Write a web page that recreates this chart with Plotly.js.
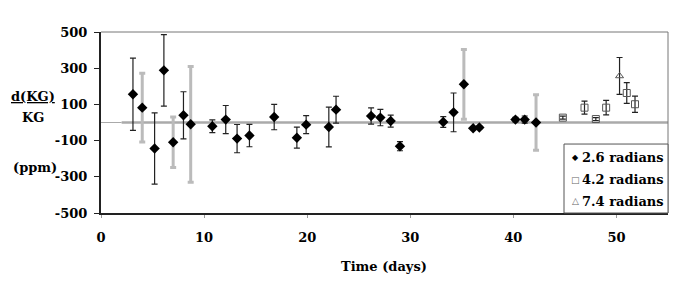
<!DOCTYPE html>
<html><head><meta charset="utf-8">
<script src="https://cdn.plot.ly/plotly-3.0.1.min.js"></script>
<style>html,body{margin:0;padding:0;background:#fff}#chart{width:692px;height:290px}</style>
</head><body><div id="chart"></div>
<script>
// 2.6 radians, black error bars
const aDays = [3.1, 5.2, 6.1, 8.0, 10.8, 12.1, 13.2, 14.4, 16.8, 19.0, 19.9, 22.1, 22.8, 26.2, 27.1, 28.1, 29.0, 33.2, 34.2, 36.1, 36.7, 40.2, 41.1];
const aVals = [156, -144, 288, 40, -21, 16, -89, -72, 30, -84, -12, -25, 71, 36, 27, 8, -131, 3, 56, -32, -28, 16, 16];
const aErr  = [200, 197, 197, 130, 35, 78, 78, 62, 70, 58, 50, 110, 74, 45, 45, 33, 25, 30, 107, 8, 8, 12, 20];
// 2.6 radians, grey error bars
const bDays = [4.0, 7.0, 8.7, 35.2, 42.2];
const bVals = [82, -109, -10, 211, 0];
const bErr  = [190, 140, 320, 193, 153];
// 4.2 radians
const sDays = [44.8, 46.9, 48.0, 49.0, 51.0, 51.8];
const sVals = [27, 82, 19, 82, 163, 101];
const sErr  = [8, 36, 8, 40, 57, 45];
// 7.4 radians
const tDays = [50.3];
const tVals = [257];
const tErr  = [102];

const xTicks = [0, 10, 20, 30, 40, 50];
const yTicks = [-500, -300, -100, 100, 300, 500];
const seriesNames = ['2.6 radians', '4.2 radians', '7.4 radians'];
const seriesGlyphs = ['\u25C6', '\u25A1', '\u25B3'];

const F = 'DejaVu Serif, Liberation Serif, serif';
const bold = {family: F, size: 13, color: '#000', weight: 'bold'};
const traces = [
  {x: bDays, y: bVals, type: 'scatter', mode: 'markers', name: seriesNames[0], showlegend: false,
   marker: {symbol: 'diamond', size: 8, color: '#000'},
   error_y: {type: 'data', array: bErr, visible: true, color: '#bbbbbb', thickness: 3, width: 3}},
  {x: aDays, y: aVals, type: 'scatter', mode: 'markers', name: seriesNames[0], showlegend: false,
   marker: {symbol: 'diamond', size: 8, color: '#000'},
   error_y: {type: 'data', array: aErr, visible: true, color: '#222', thickness: 1.2, width: 3}},
  {x: sDays, y: sVals, type: 'scatter', mode: 'markers', name: seriesNames[1], showlegend: false,
   marker: {symbol: 'square-open', size: 7, color: '#555', line: {width: 1}},
   error_y: {type: 'data', array: sErr, visible: true, color: '#222', thickness: 1.2, width: 3}},
  {x: tDays, y: tVals, type: 'scatter', mode: 'markers', name: seriesNames[2], showlegend: false,
   marker: {symbol: 'triangle-up-open', size: 7, color: '#555', line: {width: 1}},
   error_y: {type: 'data', array: tErr, visible: true, color: '#222', thickness: 1.2, width: 3}}
];

const rowY = [0.308, 0.184, 0.065];
const legendAnn = [];
seriesNames.forEach((n, i) => {
  legendAnn.push({xref: 'paper', yref: 'paper', x: 0.836, y: rowY[i], xanchor: 'center', yanchor: 'middle',
    text: seriesGlyphs[i], showarrow: false, font: {family: 'DejaVu Sans', size: i === 0 ? 8 : 9, color: i === 0 ? '#000' : '#666'}});
  legendAnn.push({xref: 'paper', yref: 'paper', x: 0.845, y: rowY[i], xanchor: 'left', yanchor: 'middle',
    text: n, showarrow: false, font: bold});
});

const layout = {
  width: 692, height: 290,
  margin: {l: 101, r: 24, t: 32, b: 77},
  paper_bgcolor: '#fff', plot_bgcolor: '#fff',
  font: {family: F, size: 13, color: '#000'},
  showlegend: false,
  xaxis: {range: [0, 55], tickvals: xTicks, ticktext: xTicks.map(String), showgrid: false, zeroline: false,
    showline: true, linecolor: '#222', linewidth: 2, ticks: 'outside', ticklen: 3, tickcolor: '#999',
    tickfont: bold, ticklabelstandoff: 8},
  yaxis: {range: [-500, 500], tickvals: yTicks, ticktext: yTicks.map(String), showgrid: false, zeroline: false,
    showline: true, linecolor: '#222', linewidth: 2, ticks: 'outside', ticklen: 5, tickcolor: '#222',
    tickfont: bold, ticklabelstandoff: 4},
  shapes: [
    {type: 'line', xref: 'paper', yref: 'paper', x0: 0, x1: 1, y0: 1, y1: 1, line: {color: '#777', width: 1}},
    {type: 'line', xref: 'paper', yref: 'paper', x0: 1, x1: 1, y0: 0, y1: 1, line: {color: '#777', width: 1}},
    {type: 'line', xref: 'x', yref: 'y', x0: 0, x1: 2, y0: 0, y1: 0, layer: 'below', line: {color: '#aaa', width: 1}},
    {type: 'line', xref: 'x', yref: 'y', x0: 2, x1: 55, y0: 0, y1: 0, layer: 'below', line: {color: '#aaa', width: 2.5}},
    {type: 'rect', xref: 'paper', yref: 'paper', x0: 0.8166, x1: 1, y0: 0, y1: 0.381, fillcolor: '#fff', line: {color: '#555', width: 1}}
  ],
  annotations: [
    {xref: 'paper', yref: 'paper', x: -0.12, y: 0.641, xanchor: 'center', yanchor: 'middle', text: '<u>d(KG)</u>', showarrow: false, font: bold},
    {xref: 'paper', yref: 'paper', x: -0.12, y: 0.530, xanchor: 'center', yanchor: 'middle', text: 'KG', showarrow: false, font: bold},
    {xref: 'paper', yref: 'paper', x: -0.116, y: 0.254, xanchor: 'center', yanchor: 'middle', text: '(ppm)', showarrow: false, font: bold},
    {xref: 'paper', yref: 'paper', x: 0.499, y: -0.298, xanchor: 'center', yanchor: 'middle', text: 'Time (days)', showarrow: false, font: bold}
  ].concat(legendAnn)
};
Plotly.newPlot('chart', traces, layout, {displayModeBar: false, staticPlot: true});
</script></body></html>
